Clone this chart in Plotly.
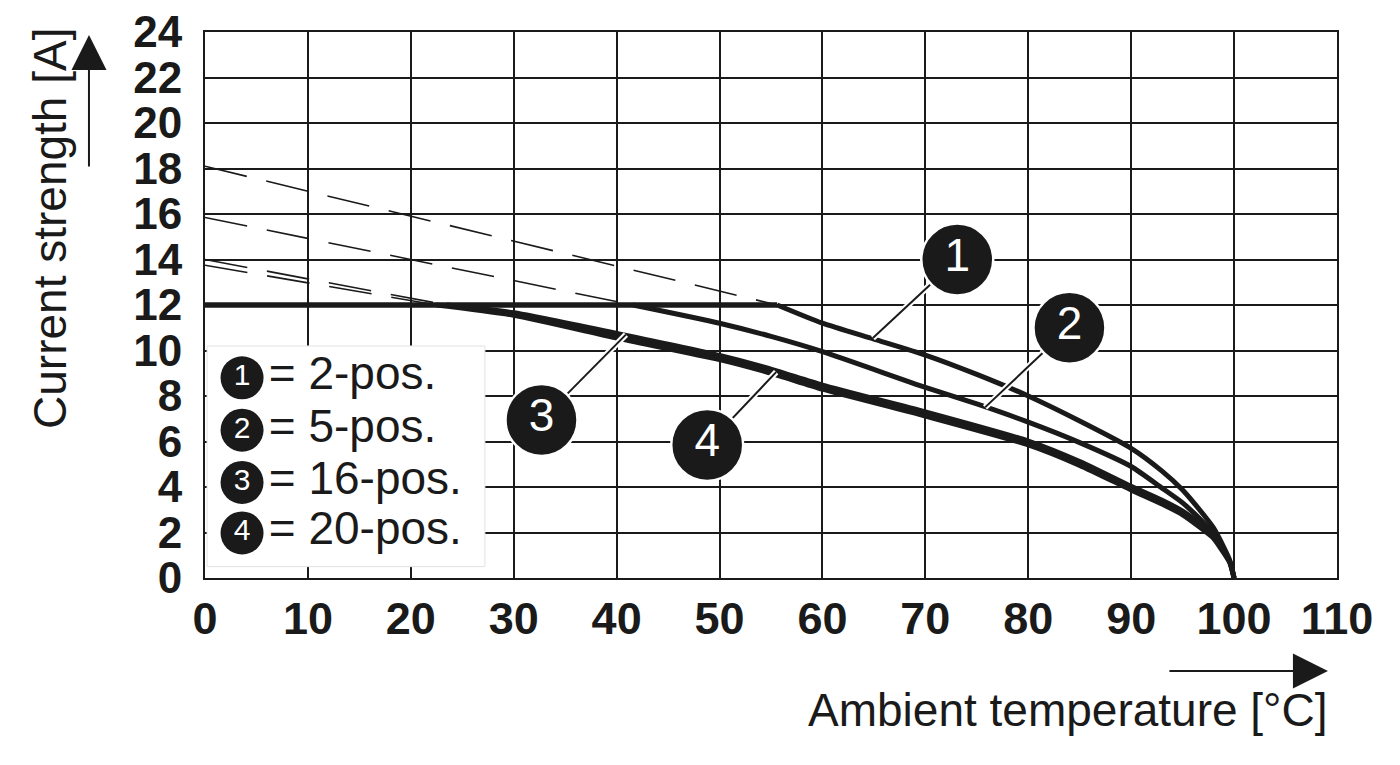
import plotly.graph_objects as go

# ---------------- data ----------------
x_ticks = [0, 10, 20, 30, 40, 50, 60, 70, 80, 90, 100, 110]
y_ticks = [0, 2, 4, 6, 8, 10, 12, 14, 16, 18, 20, 22, 24]

flat_x = [0, 55.6]
flat_y = [12, 12]

c1_x = [55.6, 60, 65, 70, 75, 80, 85, 90, 93, 95, 97, 98, 99, 99.6, 100]
c1_y = [12, 11.2, 10.5, 9.8, 8.95, 8.0, 6.9, 5.7, 4.7, 3.87, 2.8, 2.2, 1.35, 0.75, 0]

c2_x = [41.6, 50, 55, 60, 70, 75, 80, 85, 90, 93, 95, 97, 98, 99, 99.6, 100]
c2_y = [12, 11.2, 10.62, 9.95, 8.38, 7.65, 6.85, 5.95, 4.9, 3.95, 3.3, 2.45, 1.95, 1.2, 0.7, 0]

c3_x = [23.5, 30, 40, 50, 55, 60, 70, 80, 85, 90, 93, 95, 97, 98, 99, 99.6, 100]
c3_y = [12, 11.66, 10.75, 9.78, 9.18, 8.48, 7.3, 6.02, 5.12, 4.03, 3.42, 2.94, 2.27, 1.87, 1.2, 0.7, 0]

c4_x = [22.5, 30, 40, 50, 55, 60, 70, 80, 85, 90, 93, 95, 97, 98, 99, 99.6, 100]
c4_y = [12, 11.55, 10.55, 9.6, 9.0, 8.3, 7.12, 5.85, 4.95, 3.87, 3.25, 2.78, 2.12, 1.75, 1.1, 0.65, 0]

# dashed extrapolations (start at 0 °C, end at knee)
d1_x, d1_y = [0, 55.6], [18.1, 12]
d2_x, d2_y = [0, 41.6], [15.85, 12]
d3_x, d3_y = [0, 23.5], [14.0, 12]
d4_x, d4_y = [0, 22.5], [13.75, 12]

# callouts: circle centre and leader-line target
call_labels = ["1", "2", "3", "4"]
call_cx = [73.1, 84.0, 32.7, 48.8]
call_cy = [14.0, 11.0, 6.95, 5.85]
call_tx = [64.9, 75.8, 40.9, 55.5]
call_ty = [10.55, 7.5, 10.7, 9.05]

# legend
leg_nums = ["1", "2", "3", "4"]
leg_text = ["= 2-pos.", "= 5-pos.", "= 16-pos.", "= 20-pos."]
leg_y = [8.8, 6.5, 4.2, 1.98]
leg_box_x = [0.2, 27.2, 27.2, 0.2, 0.2]
leg_box_y = [0.5, 0.5, 10.2, 10.2, 0.5]

INK = "#1a1a1a"
FONT = "Liberation Sans, Arial, Helvetica, sans-serif"

fig = go.Figure()

# dashed lines
for dx, dy in [(d1_x, d1_y), (d2_x, d2_y), (d3_x, d3_y), (d4_x, d4_y)]:
    fig.add_trace(go.Scatter(x=dx, y=dy, mode="lines",
                             line=dict(color=INK, width=1.6, dash="43px,20px"),
                             hoverinfo="skip", showlegend=False))

# curves
for cx, cy in [(c1_x, c1_y), (c2_x, c2_y), (c3_x, c3_y), (c4_x, c4_y)]:
    fig.add_trace(go.Scatter(x=cx, y=cy, mode="lines",
                             line=dict(color=INK, width=5, shape="spline", smoothing=0.6),
                             hoverinfo="skip", showlegend=False))
fig.add_trace(go.Scatter(x=flat_x, y=flat_y, mode="lines",
                         line=dict(color=INK, width=5.5),
                         hoverinfo="skip", showlegend=False))

# legend box
fig.add_trace(go.Scatter(x=leg_box_x, y=leg_box_y, mode="lines", fill="toself",
                         fillcolor="white", line=dict(color="#e2e2e2", width=1),
                         hoverinfo="skip", showlegend=False))
fig.add_trace(go.Scatter(x=[3.6] * 4, y=leg_y, mode="markers+text", text=leg_nums,
                         textposition="middle center",
                         textfont=dict(color="white", size=30, family=FONT),
                         marker=dict(size=43, color=INK, line=dict(width=0)),
                         hoverinfo="skip", showlegend=False))
fig.add_trace(go.Scatter(x=[6.2] * 4, y=leg_y, mode="text", text=leg_text,
                         textposition="middle right",
                         textfont=dict(color=INK, size=46, family=FONT),
                         hoverinfo="skip", showlegend=False))

# callout leaders (white halo + black line)
for i in range(4):
    lx = [call_cx[i], call_tx[i]]
    ly = [call_cy[i], call_ty[i]]
    fig.add_trace(go.Scatter(x=lx, y=ly, mode="lines", line=dict(color="white", width=6),
                             hoverinfo="skip", showlegend=False))
    fig.add_trace(go.Scatter(x=lx, y=ly, mode="lines", line=dict(color=INK, width=2),
                             hoverinfo="skip", showlegend=False))
fig.add_trace(go.Scatter(x=call_cx, y=call_cy, mode="markers+text", text=call_labels,
                         textposition="middle center",
                         textfont=dict(color="white", size=46, family=FONT),
                         marker=dict(size=72, color=INK, line=dict(color="white", width=2.5)),
                         hoverinfo="skip", showlegend=False))

fig.update_xaxes(range=[0, 110], tickvals=x_ticks, ticktext=[str(v) for v in x_ticks],
                 showgrid=True, gridcolor=INK, gridwidth=2, zeroline=False,
                 showline=True, linecolor=INK, linewidth=2, mirror=True,
                 ticks="", ticklabelstandoff=0, ticklabeloverflow="allow",
                 automargin=False,
                 tickfont=dict(family=FONT, size=45, color=INK, weight="bold"))
fig.update_yaxes(range=[0, 24], tickvals=y_ticks, ticktext=[str(v) for v in y_ticks],
                 showgrid=True, gridcolor=INK, gridwidth=2, zeroline=False,
                 showline=True, linecolor=INK, linewidth=2, mirror=True,
                 ticks="", ticklabelstandoff=12, ticklabeloverflow="allow",
                 automargin=False,
                 tickfont=dict(family=FONT, size=44, color=INK, weight="bold"))

fig.add_annotation(text="Current strength [A]", xref="paper", yref="paper",
                   x=-0.137, y=0.641, xanchor="center", yanchor="middle",
                   textangle=-90, showarrow=False,
                   font=dict(family=FONT, size=46, color=INK))
fig.add_annotation(text="", xref="paper", yref="paper", x=-0.1025, y=0.9945,
                   ax=0, ay=133, showarrow=True, arrowhead=2, arrowsize=3.5,
                   arrowwidth=2, arrowcolor=INK)
fig.add_annotation(text="Ambient temperature [°C]", xref="paper", yref="paper",
                   x=0.994, y=-0.2418, xanchor="right", yanchor="middle", showarrow=False,
                   font=dict(family=FONT, size=46, color=INK))
fig.add_annotation(text="", xref="paper", yref="paper", x=0.992, y=-0.1703,
                   ax=-160, ay=0, showarrow=True, arrowhead=2, arrowsize=3.5,
                   arrowwidth=2, arrowcolor=INK)

fig.update_layout(width=1384, height=749, plot_bgcolor="white", paper_bgcolor="white",
                  margin=dict(l=197, r=55, t=24, b=179), showlegend=False)

fig.write_html("out.html")
